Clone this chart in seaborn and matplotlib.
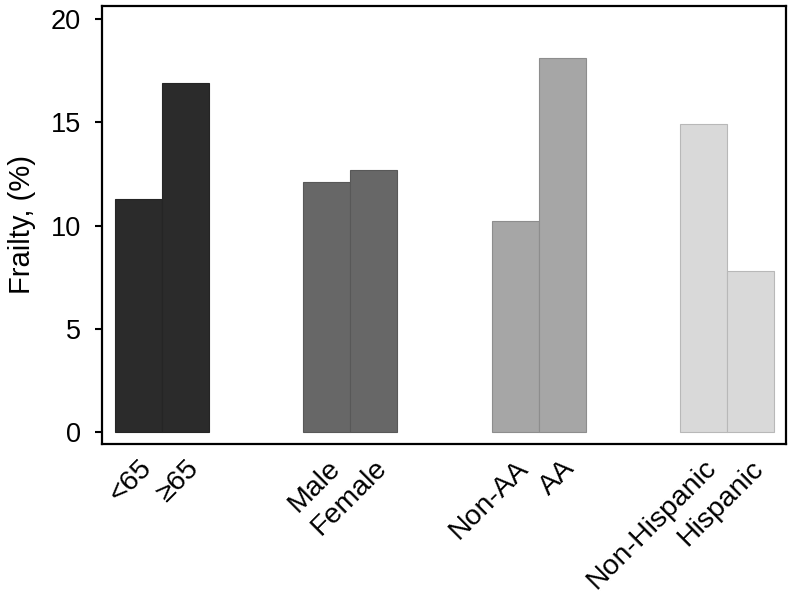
import pandas as pd
import matplotlib
matplotlib.use('Agg')
import matplotlib.pyplot as plt
import matplotlib.colors as mcolors
import matplotlib.transforms as mtransforms
import seaborn as sns

# Values
labels = ['<65', '≥65', 'Male', 'Female', 'Non-AA', 'AA', 'Non-Hispanic', 'Hispanic']
groups = ['Age', 'Age', 'Sex', 'Sex', 'Race', 'Race', 'Ethnicity', 'Ethnicity']
frailty = [11.3, 16.9, 12.1, 12.7, 10.2, 18.1, 14.9, 7.8]
positions = [0, 1, 4, 5, 8, 9, 12, 13]

group_colors = {'Age': '#2b2b2b', 'Sex': '#676767', 'Race': '#a6a6a6', 'Ethnicity': '#d9d9d9'}

df = pd.DataFrame({'label': labels, 'group': groups, 'frailty': frailty, 'pos': positions})

sns.set_theme(style='white')
plt.rcParams['font.family'] = ['Liberation Sans', 'DejaVu Sans']
plt.rcParams['text.color'] = 'black'
plt.rcParams['axes.labelcolor'] = 'black'
plt.rcParams['xtick.color'] = 'black'
plt.rcParams['ytick.color'] = 'black'

fig = plt.figure(figsize=(7.91, 6.04), dpi=100)
ax = fig.add_axes([0.129, 0.265, 0.8647, 0.725])

sns.barplot(data=df, x='pos', y='frailty', hue='group', palette=group_colors,
            native_scale=True, width=1.0, dodge=False, legend=False, ax=ax)

# thin darker outline on each bar
for p in ax.patches:
    fc = mcolors.to_rgb(p.get_facecolor())
    p.set_edgecolor(tuple(c * 0.85 for c in fc))
    p.set_linewidth(0.8)

ax.set_xlim(-0.78, 13.76)
ax.set_ylim(-0.58, 20.63)
ax.set_yticks([0, 5, 10, 15, 20])
ax.set_xticks(positions)
ax.set_xticklabels(labels, rotation=45, ha='right', rotation_mode='anchor', fontsize=20.5)
# nudge rotated labels a little to the right, as in the original
shift = mtransforms.ScaledTranslation(6 / 72, 0, fig.dpi_scale_trans)
for t in ax.get_xticklabels():
    t.set_transform(t.get_transform() + shift)
ax.tick_params(axis='y', labelsize=19.5, left=True, length=5, width=1.5, direction='out', pad=10)
ax.tick_params(axis='x', length=0, pad=8)
ax.set_xlabel('')
ax.set_ylabel('Frailty, (%)', fontsize=21, labelpad=11)

for side in ['left', 'right', 'top', 'bottom']:
    ax.spines[side].set_visible(True)
    ax.spines[side].set_color('black')
    ax.spines[side].set_linewidth(1.6)

fig.savefig('out.png', dpi=100)
